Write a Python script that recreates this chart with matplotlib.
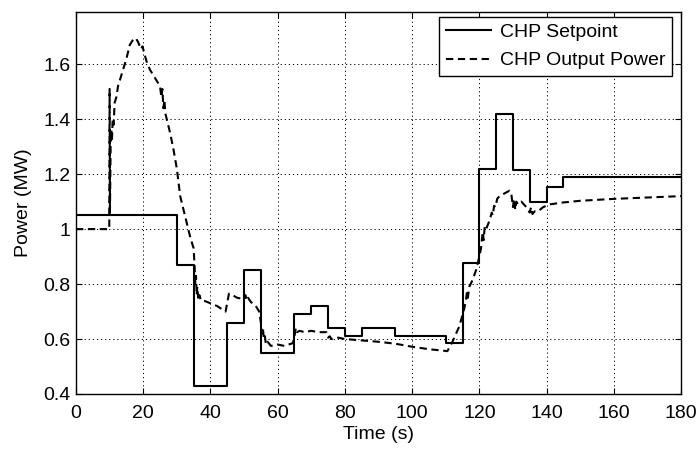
"""CHP setpoint vs. measured output power."""
import matplotlib
matplotlib.use("Agg")
import matplotlib.pyplot as plt
from matplotlib import font_manager

# setpoint steps (value holds from each time until the next)
sp_time = [0, 30, 35, 45, 50, 55, 65, 70, 75, 80, 85, 95, 110, 115,
           120, 125, 130, 135, 140, 145, 180]
sp_power = [1.05, 0.87, 0.43, 0.66, 0.85, 0.55, 0.69, 0.72, 0.64, 0.61,
            0.64, 0.61, 0.585, 0.875, 1.22, 1.42, 1.215, 1.10, 1.155,
            1.19, 1.19]

# measured CHP output
out_time = [0, 9.9, 10.0, 10.1, 10.3, 10.5, 10.7, 10.9, 11.2, 11.5, 12.0,
            12.5, 13.0, 13.5, 14.0, 15.0, 16.0, 17.0, 17.8, 18.5, 19.3,
            19.8, 20.3, 21.0, 22.0, 23.0, 24.0, 25.0, 25.4, 25.7, 26.0,
            26.3, 26.6, 27.0, 28.0, 29.0, 30.0, 31.0, 32.0, 33.0, 34.0,
            35.0, 35.3, 35.5, 35.7, 35.9, 36.1, 36.4, 36.7, 37.2, 38.0,
            40.0, 42.0, 44.5, 45.5, 46.5, 48.0, 50.0, 50.4, 50.8, 51.2,
            52.0, 53.5, 54.5, 55.0, 55.3, 55.6, 55.9, 56.2, 56.5, 57.0,
            58.0, 60.0, 62.0, 64.5, 65.0, 65.4, 65.8, 66.5, 68.0, 70.0,
            72.0, 74.5, 75.0, 75.5, 76.0, 78.0, 80.0, 85.0, 90.0, 95.0,
            100.0, 105.0, 110.5, 112.0, 114.0, 115.5, 116.0, 116.3, 116.6,
            117.0, 118.0, 119.0, 120.0, 120.5, 121.0, 121.3, 121.6, 122.0,
            123.0, 123.7, 124.0, 124.4, 124.8, 125.3, 126.0, 127.5, 129.0,
            129.5, 130.0, 130.3, 130.7, 131.0, 131.5, 132.5, 134.0, 135.0,
            135.4, 135.8, 136.5, 137.5, 139.0, 141.0, 145.0, 150.0, 160.0,
            170.0, 180.0]
out_power = [1.0, 1.0, 1.51, 1.06, 1.30, 1.36, 1.32, 1.40, 1.38, 1.46, 1.48,
             1.52, 1.54, 1.56, 1.58, 1.62, 1.67, 1.69, 1.695, 1.68, 1.655,
             1.665, 1.64, 1.61, 1.58, 1.56, 1.54, 1.52, 1.48, 1.51, 1.44,
             1.47, 1.42, 1.40, 1.35, 1.29, 1.22, 1.12, 1.07, 1.02, 0.97,
             0.93, 0.86, 0.80, 0.83, 0.76, 0.79, 0.74, 0.76, 0.74, 0.74,
             0.73, 0.72, 0.70, 0.765, 0.76, 0.75, 0.745, 0.76, 0.74, 0.75,
             0.735, 0.72, 0.70, 0.66, 0.62, 0.64, 0.60, 0.61, 0.58, 0.59,
             0.575, 0.58, 0.575, 0.585, 0.61, 0.64, 0.625, 0.63, 0.625, 0.63,
             0.625, 0.625, 0.605, 0.61, 0.60, 0.605, 0.60, 0.595, 0.59, 0.583,
             0.572, 0.563, 0.556, 0.59, 0.645, 0.71, 0.74, 0.77, 0.75,
             0.79, 0.815, 0.85, 0.90, 0.93, 0.99, 0.96, 1.01, 1.00,
             1.03, 1.06, 1.05, 1.085, 1.08, 1.11, 1.12, 1.13, 1.14,
             1.13, 1.08, 1.11, 1.07, 1.10, 1.09, 1.10, 1.08, 1.06,
             1.08, 1.055, 1.065, 1.065, 1.08, 1.09, 1.097, 1.103, 1.110,
             1.115, 1.12]

x_ticks = [0, 20, 40, 60, 80, 100, 120, 140, 160, 180]
y_ticks = [0.4, 0.6, 0.8, 1.0, 1.2, 1.4, 1.6]
y_ticklabels = ["0.4", "0.6", "0.8", "1", "1.2", "1.4", "1.6"]

# narrow face if present, otherwise regular Liberation Sans a size down
names = {f.name for f in font_manager.fontManager.ttflist}
if "Liberation Sans Narrow" in names:
    plt.rcParams["font.family"] = ["Liberation Sans Narrow", "DejaVu Sans"]
    fs = 16
else:
    plt.rcParams["font.family"] = ["Liberation Sans", "DejaVu Sans"]
    fs = 14
plt.rcParams["font.size"] = fs

fig = plt.figure(figsize=(6.97, 4.5), dpi=100)
ax = fig.add_axes([76 / 697, 56 / 450, 605 / 697, 382 / 450])

ax.step(sp_time, sp_power, where="post", color="black", linewidth=1.5,
        label="CHP Setpoint")
ax.plot(out_time, out_power, color="black", linewidth=1.5,
        linestyle=(0, (3.5, 2.2)), label="CHP Output Power")

ax.set_xlim(0, 180)
ax.set_ylim(0.4, 1.79)
ax.set_xticks(x_ticks)
ax.set_yticks(y_ticks)
ax.set_yticklabels(y_ticklabels)
ax.tick_params(direction="in", length=4, width=0.8, top=True, right=True,
               labelsize=fs)
ax.tick_params(axis="y", pad=4)
ax.tick_params(axis="x", pad=8)
ax.grid(True, color="black", linestyle=(0, (1.2, 3)), linewidth=0.7)
for sp in ax.spines.values():
    sp.set_linewidth(1.0)

ax.set_xlabel("Time (s)", fontsize=fs, labelpad=3)
ax.set_ylabel("Power (MW)", fontsize=fs, labelpad=8)

leg = ax.legend(loc="upper right", bbox_to_anchor=(0.985, 0.988),
                borderaxespad=0, fancybox=False, framealpha=1,
                edgecolor="black", handlelength=2.3, handletextpad=0.45,
                borderpad=0.35, labelspacing=0.55, fontsize=fs)
leg.get_frame().set_linewidth(1.0)

fig.savefig("out.png", dpi=100)
